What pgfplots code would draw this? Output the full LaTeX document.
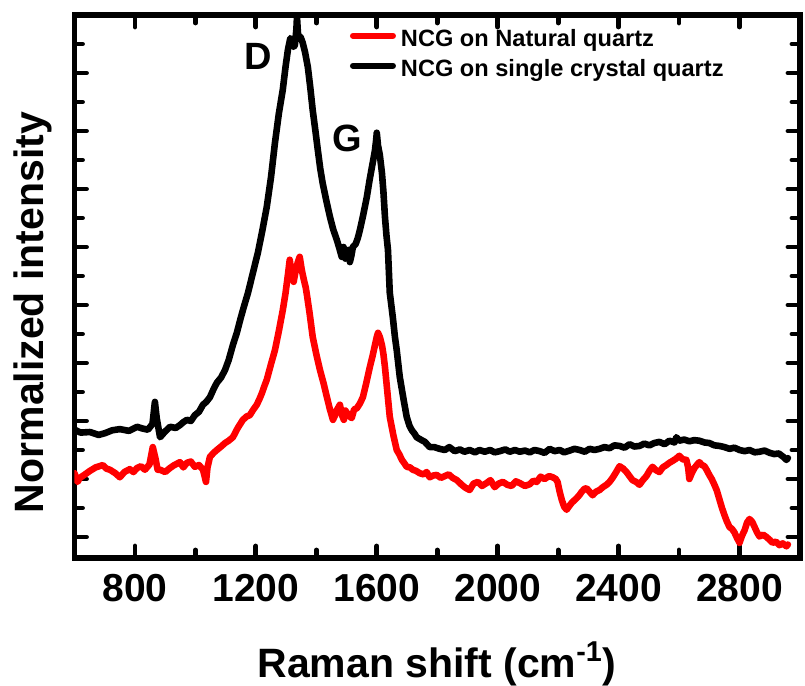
\documentclass[border=0pt]{standalone}
\usepackage{pgfplots}
\pgfplotsset{compat=1.18}
\usepackage{pgfplotstable}
\usepackage{fontspec}
\setmainfont{Liberation Sans}
\definecolor{myred}{RGB}{255,0,0}

\pgfplotstableread{
x y
600 1.85
620 1.80
651 1.81
680 1.76
701 1.79
725 1.84
750 1.86
780 1.83
807 1.90
825 1.87
843 1.85
858 1.95
866 2.33
872 2.05
883 1.72
900 1.82
916 1.90
935 1.88
949 1.93
960 1.98
972 2.02
985 2.00
998 2.10
1012 2.16
1025 2.28
1036 2.33
1048 2.41
1060 2.55
1071 2.66
1085 2.75
1098 2.88
1110 3.05
1124 3.31
1137 3.52
1150 3.78
1162 4.00
1174 4.21
1190 4.55
1207 4.91
1222 5.30
1236 5.69
1250 6.20
1263 6.79
1276 7.30
1289 7.71
1298 8.10
1306 8.40
1314 8.60
1319 8.57
1325 8.45
1329 8.48
1334 8.75
1336 8.97
1339 8.70
1342 8.60
1348 8.62
1355 8.52
1363 8.35
1372 8.10
1380 7.75
1388 7.36
1397 7.00
1405 6.67
1413 6.35
1421 6.10
1433 5.80
1445 5.52
1456 5.30
1468 5.12
1476 4.98
1484 4.83
1490 5.00
1496 4.80
1501 4.90
1507 4.95
1511 4.74
1516 4.85
1521 5.00
1530 5.05
1537 5.15
1544 5.29
1555 5.55
1567 5.86
1576 6.15
1584 6.38
1590 6.55
1594 6.67
1598 6.85
1600 6.97
1604 6.75
1610 6.59
1617 6.28
1622 5.95
1627 5.52
1632 5.20
1637 4.95
1643 4.21
1653 3.79
1660 3.45
1666 3.22
1676 2.76
1689 2.36
1699 2.07
1708 1.92
1716 1.84
1725 1.78
1732 1.72
1745 1.68
1759 1.64
1775 1.55
1790 1.55
1808 1.52
1825 1.50
1840 1.55
1858 1.48
1875 1.51
1890 1.47
1907 1.50
1925 1.46
1940 1.50
1957 1.47
1975 1.50
1990 1.46
2007 1.48
2025 1.51
2040 1.47
2057 1.50
2073 1.47
2090 1.49
2106 1.46
2122 1.50
2139 1.48
2155 1.45
2172 1.52
2188 1.48
2205 1.50
2220 1.46
2238 1.49
2254 1.52
2271 1.50
2288 1.47
2304 1.52
2320 1.50
2337 1.52
2353 1.55
2370 1.53
2386 1.58
2403 1.57
2420 1.54
2436 1.60
2452 1.56
2469 1.57
2485 1.61
2502 1.58
2518 1.62
2535 1.64
2552 1.60
2568 1.66
2585 1.63
2591 1.72
2600 1.66
2617 1.68
2634 1.65
2650 1.67
2667 1.66
2684 1.63
2700 1.62
2717 1.58
2734 1.57
2750 1.55
2767 1.52
2783 1.54
2800 1.50
2817 1.48
2833 1.50
2850 1.46
2866 1.47
2883 1.49
2900 1.45
2915 1.43
2930 1.44
2945 1.38
2955 1.33
2960 1.36
}\blackdata

\pgfplotstableread{
x y
600 1.10
610 0.95
618 1.02
635 1.08
651 1.14
670 1.20
694 1.24
705 1.18
717 1.16
735 1.10
750 1.03
765 1.12
783 1.17
795 1.12
807 1.19
820 1.22
833 1.16
848 1.25
859 1.55
868 1.35
875 1.16
883 1.16
900 1.12
916 1.19
930 1.24
949 1.29
960 1.20
972 1.28
985 1.30
998 1.21
1012 1.24
1025 1.16
1035 0.95
1040 1.20
1048 1.38
1060 1.45
1071 1.50
1085 1.56
1098 1.62
1110 1.66
1124 1.72
1140 1.88
1157 2.02
1170 2.08
1180 2.10
1192 2.20
1203 2.28
1212 2.38
1220 2.48
1228 2.60
1236 2.71
1250 2.98
1263 3.22
1276 3.55
1289 3.91
1298 4.20
1306 4.52
1312 4.78
1318 4.55
1325 4.40
1332 4.60
1339 4.74
1345 4.83
1352 4.60
1359 4.43
1365 4.30
1369 4.17
1378 3.85
1388 3.45
1400 3.15
1412 2.88
1424 2.65
1435 2.41
1445 2.20
1455 2.02
1462 2.10
1468 2.19
1478 2.28
1485 2.10
1491 2.02
1496 2.18
1501 2.14
1510 2.08
1517 2.05
1525 2.20
1534 2.22
1544 2.30
1554 2.41
1565 2.65
1577 2.93
1586 3.12
1594 3.31
1600 3.45
1604 3.52
1610 3.45
1617 3.31
1622 3.15
1627 2.93
1635 2.50
1643 2.07
1655 1.75
1666 1.50
1675 1.42
1683 1.33
1690 1.28
1699 1.21
1710 1.20
1719 1.16
1730 1.14
1742 1.10
1755 1.08
1765 1.12
1775 1.03
1787 1.06
1798 1.07
1812 1.02
1825 1.05
1838 1.08
1851 1.02
1865 0.98
1881 0.90
1893 0.85
1907 0.81
1920 0.92
1934 0.95
1948 0.88
1963 0.93
1976 0.98
1990 0.86
2003 0.92
2017 0.95
2032 0.90
2046 0.88
2060 0.96
2073 0.93
2090 0.88
2106 0.91
2118 0.97
2129 0.95
2142 1.04
2155 1.00
2170 1.05
2182 1.03
2192 1.00
2198 0.95
2205 0.78
2212 0.64
2220 0.52
2228 0.47
2236 0.53
2245 0.59
2253 0.63
2261 0.67
2270 0.72
2278 0.78
2287 0.83
2294 0.84
2304 0.78
2314 0.72
2325 0.78
2337 0.81
2348 0.86
2360 0.90
2370 0.95
2380 1.02
2392 1.12
2403 1.22
2415 1.18
2426 1.12
2436 1.05
2446 0.98
2458 0.95
2469 0.90
2480 0.98
2492 1.05
2502 1.14
2512 1.21
2524 1.15
2535 1.12
2546 1.20
2558 1.24
2568 1.28
2578 1.31
2590 1.35
2601 1.40
2612 1.34
2624 1.33
2630 1.20
2634 1.00
2642 1.10
2651 1.19
2660 1.25
2667 1.29
2676 1.24
2684 1.22
2692 1.15
2700 1.07
2708 1.00
2717 0.90
2725 0.80
2734 0.64
2742 0.50
2750 0.38
2758 0.27
2767 0.17
2775 0.14
2783 0.08
2792 -0.02
2800 -0.10
2808 0.02
2817 0.12
2825 0.25
2833 0.31
2842 0.26
2850 0.17
2858 0.08
2866 0.01
2878 0.04
2889 0.00
2900 -0.05
2909 -0.10
2920 -0.08
2932 -0.14
2943 -0.11
2955 -0.16
2960 -0.13
}\reddata

\begin{document}
\begin{tikzpicture}
\path[use as bounding box] (-37.25pt,-64pt) rectangle (365.25pt,279pt);
\begin{axis}[
  scale only axis,
  width=362.75pt, height=271.5pt,
  xmin=600, xmax=3000,
  ymin=-0.362, ymax=9,
  xtick={800,1200,...,2800},
  minor x tick num=1,
  ytick={0,1,...,9},
  minor y tick num=1,
  yticklabels={},
  major tick length=6pt,
  minor tick length=4pt,
  tick style={line width=2.4pt, black, line cap=round},
  axis line style={line width=2.7pt, line cap=round},
  /pgf/number format/assume math mode=true,
  /pgf/number format/1000 sep={},
  xticklabel style={font=\fontsize{19.5}{22}\selectfont\bfseries, anchor=base, yshift=-22pt},
  xlabel={Raman shift (cm\textsuperscript{-1})},
  ylabel={Normalized intensity},
  xlabel style={font=\fontsize{20.5}{24}\selectfont\bfseries, at={(axis description cs:0.4997,-0.2192)}, anchor=base},
  ylabel style={font=\fontsize{20.5}{24}\selectfont\bfseries, at={(axis description cs:-0.0434,0.452)}, anchor=base},
  legend style={draw=none, fill=none, at={(axis description cs:0.3797,0.9245)}, anchor=west,
    inner sep=0pt, outer sep=0pt, row sep=3pt, column sep=2.5pt,
    font=\fontsize{11.8}{14}\selectfont\bfseries,
    nodes={inner sep=0pt, text height=9pt, text depth=3pt}},
  legend cell align=left,
  legend image code/.code={\draw[#1, line width=3pt, line cap=round] (0pt,2.65pt) -- (20pt,2.65pt);},
]
\addplot[color=myred, line width=3.3pt, line join=round, line cap=round] table[x=x,y=y] {\reddata};
\addlegendentry{NCG on Natural quartz}
\addplot[color=black, line width=3.3pt, line join=round, line cap=round] table[x=x,y=y] {\blackdata};
\addlegendentry{NCG on single crystal quartz}
\node[font=\fontsize{19}{22}\selectfont\bfseries] at (axis cs:1207,8.28) {D};
\node[font=\fontsize{19}{22}\selectfont\bfseries] at (axis cs:1501,6.87) {G};
\end{axis}
\end{tikzpicture}
\end{document}
